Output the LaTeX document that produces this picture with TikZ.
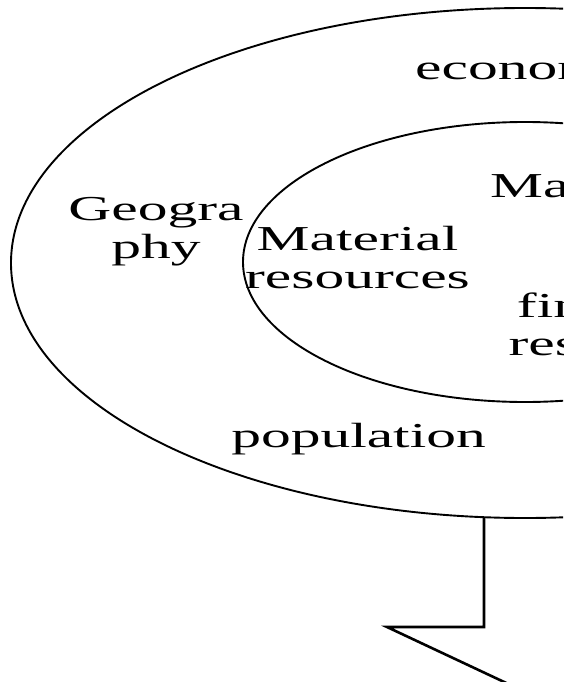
\documentclass[tikz,border=0pt]{standalone}
\usepackage{fontspec}
\setmainfont{Liberation Serif}[FakeStretch=1.7]
\begin{document}
\begin{tikzpicture}[x=1pt,y=-1pt,
  ring/.style={line width=1.9pt},
  blockarrow/.style={line width=2.6pt, line join=miter},
  lbl/.style={inner sep=0pt, align=center, font=\fontsize{35}{38}\selectfont}]
  % canvas
  \fill[white] (0,0) rectangle (563,682);
  \clip (0,0) rectangle (563,682);
  % outer and inner rings
  \draw[ring] (525,263) ellipse [x radius=514pt, y radius=255pt];
  \draw[ring] (525,262) ellipse [x radius=282pt, y radius=140pt];
  % block arrow leaving the outer ring
  \coordinate (stemtop) at (484,517.2);
  \coordinate (stemfoot) at (484,627);
  \coordinate (barb) at (387,627);
  \coordinate (tip) at (600,727);
  \draw[blockarrow] (stemtop) -- (stemfoot) -- (barb) -- (tip);
  % labels (base anchor sits on the last line)
  \node[lbl, anchor=base west] (econ) at (415,80) {economy};
  \node[lbl, anchor=base west] (man) at (490,197) {Manpower};
  \node[lbl, anchor=base] (fin) at (621,355) {financial\\resources};
  \node[lbl, anchor=base] (geo) at (156,258) {Geogra\\phy};
  \node[lbl, anchor=base] (mat) at (357.5,288) {Material\\resources};
  \node[lbl, anchor=base] (pop) at (358.5,447) {population};
\end{tikzpicture}
\end{document}
